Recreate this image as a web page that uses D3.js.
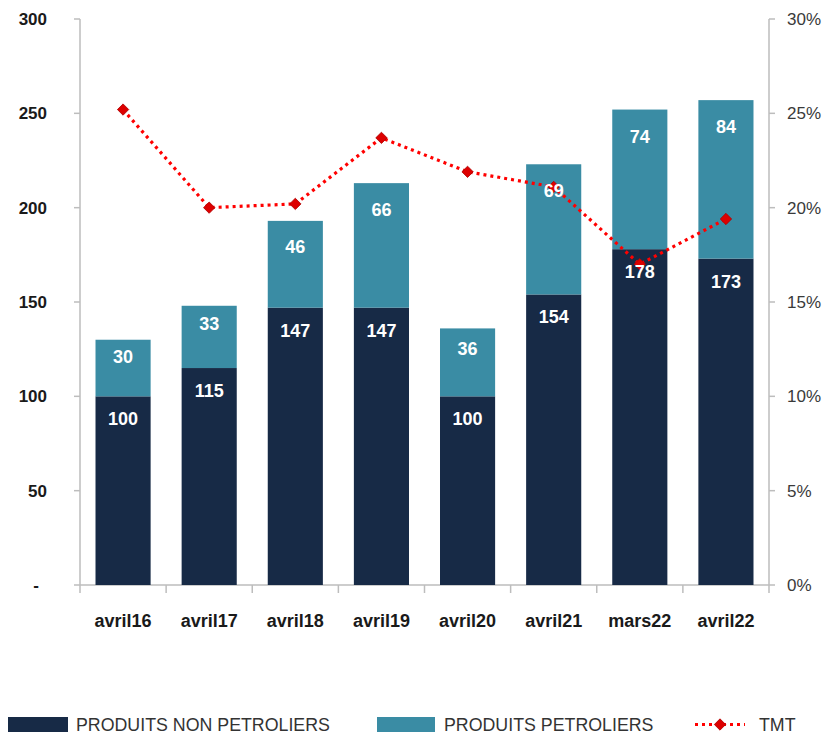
<!DOCTYPE html>
<html>
<head>
<meta charset="utf-8">
<script src="https://cdn.jsdelivr.net/npm/d3@7"></script>
<style>
  html, body { margin: 0; padding: 0; background: #fff; }
  svg { display: block; }
</style>
</head>
<body>
<div id="chart"></div>
<script>
const categories = ['avril16', 'avril17', 'avril18', 'avril19', 'avril20', 'avril21', 'mars22', 'avril22'];
const nonPetroliers = [100, 115, 147, 147, 100, 154, 178, 173];
const petroliers = [30, 33, 46, 66, 36, 69, 74, 84];
const tmt = [25.2, 20.0, 20.2, 23.7, 21.9, 21.1, 17.0, 19.4];
const leftTicks = [0, 50, 100, 150, 200, 250, 300];
const rightTicks = [0, 5, 10, 15, 20, 25, 30];
const seriesNames = ['PRODUITS NON PETROLIERS', 'PRODUITS PETROLIERS', 'TMT'];

const C = { dark: '#172a46', teal: '#3a8ca4', red: '#ff0000', marker: '#dd0000', axis: '#bdbdbd', text: '#1a1a1a' };
const FONT = '"Liberation Sans", Arial, sans-serif';

const W = 827, H = 738, mL = 80, mR = 58, mT = 19, mB = 153;
const svg = d3.select('#chart').append('svg').attr('width', W).attr('height', H);

const x = d3.scaleBand().domain(categories).range([mL, W - mR]).paddingInner(0.36).paddingOuter(0.18);
const y = d3.scaleLinear().domain([0, 300]).range([H - mB, mT]);
const y2 = d3.scaleLinear().domain([0, 30]).range([H - mB, mT]);
const step = x.step();

// axes: left, right, bottom (gray lines with outward ticks)
const ax = svg.append('g').attr('stroke', C.axis).attr('stroke-width', 1.5);
ax.append('line').attr('x1', mL).attr('x2', mL).attr('y1', y(300)).attr('y2', y(0));
ax.append('line').attr('x1', W - mR).attr('x2', W - mR).attr('y1', y(300)).attr('y2', y(0));
ax.append('line').attr('x1', mL).attr('x2', W - mR).attr('y1', y(0)).attr('y2', y(0));
leftTicks.forEach(t => {
  ax.append('line').attr('x1', mL - 6).attr('x2', mL).attr('y1', y(t)).attr('y2', y(t));
  svg.append('text').attr('x', t === 0 ? 36 : 47).attr('y', y(t) + 6)
    .attr('text-anchor', t === 0 ? 'middle' : 'end')
    .attr('font-family', FONT).attr('font-size', 17).attr('font-weight', 700).attr('fill', C.text)
    .text(t === 0 ? '-' : t);
});
rightTicks.forEach(t => {
  ax.append('line').attr('x1', W - mR).attr('x2', W - mR + 6).attr('y1', y2(t)).attr('y2', y2(t));
  svg.append('text').attr('x', 787).attr('y', y2(t) + 6)
    .attr('font-family', FONT).attr('font-size', 17).attr('fill', '#3a3a3a').text(t + '%');
});
for (let i = 0; i <= categories.length; i++) {
  const xp = mL + i * step;
  ax.append('line').attr('x1', xp).attr('x2', xp).attr('y1', y(0)).attr('y2', y(0) + 8);
}
categories.forEach(c => {
  svg.append('text').attr('x', x(c) + x.bandwidth() / 2).attr('y', 627).attr('text-anchor', 'middle')
    .attr('font-family', FONT).attr('font-size', 18).attr('font-weight', 700).attr('fill', C.text).text(c);
});

// stacked bars
const bars = svg.append('g');
categories.forEach((c, i) => {
  const base = nonPetroliers[i], top = base + petroliers[i];
  bars.append('rect').attr('x', x(c)).attr('width', x.bandwidth())
    .attr('y', y(base)).attr('height', y(0) - y(base)).attr('fill', C.dark);
  bars.append('rect').attr('x', x(c)).attr('width', x.bandwidth())
    .attr('y', y(top)).attr('height', y(base) - y(top)).attr('fill', C.teal);
});

// TMT line on right axis
const cx = i => x(categories[i]) + x.bandwidth() / 2;
const line = d3.line().x((d, i) => cx(i)).y(d => y2(d));
svg.append('path').datum(tmt).attr('d', line).attr('fill', 'none')
  .attr('stroke', C.red).attr('stroke-width', 3.2).attr('stroke-dasharray', '3 4');
const diamond = d3.symbol().type(d3.symbolSquare).size(64);
tmt.forEach((v, i) => {
  svg.append('path').attr('d', diamond())
    .attr('transform', `translate(${cx(i)},${y2(v)}) rotate(45)`)
    .attr('fill', C.marker).attr('stroke', '#b00000').attr('stroke-width', 0.8);
});

// value labels, near the top of each segment
const lbl = svg.append('g').attr('font-family', FONT).attr('font-size', 18).attr('font-weight', 700)
  .attr('fill', '#fff').attr('text-anchor', 'middle');
categories.forEach((c, i) => {
  const base = nonPetroliers[i], top = base + petroliers[i];
  const pOff = Math.min(27, (y(base) - y(top)) * 0.3);
  lbl.append('text').attr('x', cx(i)).attr('y', y(top) + pOff + 6).text(petroliers[i]);
  lbl.append('text').attr('x', cx(i)).attr('y', y(base) + 29).text(nonPetroliers[i]);
});

// legend
const lg = svg.append('g').attr('font-family', FONT).attr('font-size', 17.8).attr('fill', '#333');
lg.append('rect').attr('x', 8).attr('y', 717).attr('width', 60).attr('height', 15).attr('fill', C.dark);
lg.append('text').attr('x', 76).attr('y', 731).text(seriesNames[0]);
lg.append('rect').attr('x', 377).attr('y', 717).attr('width', 58).attr('height', 15).attr('fill', C.teal);
lg.append('text').attr('x', 444).attr('y', 731).text(seriesNames[1]);
lg.append('line').attr('x1', 695).attr('x2', 745).attr('y1', 724.5).attr('y2', 724.5)
  .attr('stroke', C.red).attr('stroke-width', 3.2).attr('stroke-dasharray', '3 4');
lg.append('path').attr('d', diamond()).attr('transform', 'translate(720,724.5) rotate(45)')
  .attr('fill', C.marker).attr('stroke', '#b00000').attr('stroke-width', 0.8);
lg.append('text').attr('x', 759).attr('y', 731).text(seriesNames[2]);
</script>
</body>
</html>
